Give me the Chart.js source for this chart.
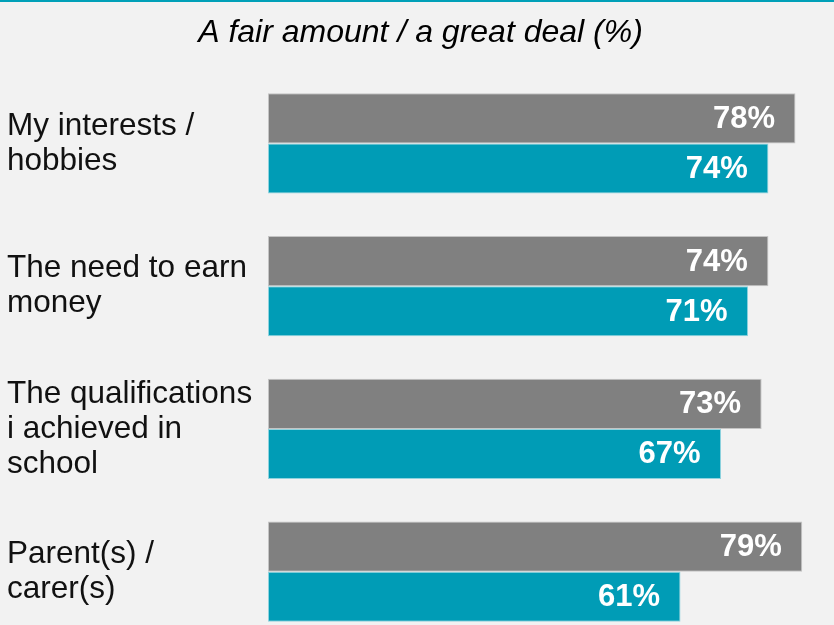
<!DOCTYPE html>
<html>
<head>
<meta charset="utf-8">
<script src="https://cdn.jsdelivr.net/npm/chart.js@4/dist/chart.umd.min.js"></script>
<style>
  html, body { margin: 0; padding: 0; background: #f2f2f2; }
  #wrap { position: relative; width: 834px; height: 625px; overflow: hidden; background: #f2f2f2; }
  #topline { position: absolute; left: 0; top: 0; width: 834px; height: 2px; background: #00a0b8; z-index: 2; }
  canvas { position: absolute; left: 0; top: 0; }
</style>
</head>
<body>
<div id="wrap">
  <div id="topline"></div>
  <canvas id="chart" width="834" height="643"></canvas>
</div>
<script>
// Survey categories (multi-line labels)
const categories = [
  ['My interests /', 'hobbies'],
  ['The need to earn', 'money'],
  ['The qualifications', 'i achieved in', 'school'],
  ['Parent(s) /', 'carer(s)']
];
// Share answering "a fair amount / a great deal", in percent
const greySeries = [78, 74, 73, 79];
const tealSeries = [74, 71, 67, 61];
const titleText = 'A fair amount / a great deal (%)';

const GREY = '#808080';
const TEAL = '#009cb6';

// Writes each bar's value inside its right end
const valueLabels = {
  id: 'valueLabels',
  afterDatasetsDraw(chart) {
    const ctx = chart.ctx;
    ctx.save();
    ctx.font = 'bold 31px "Liberation Sans", Arial, sans-serif';
    ctx.fillStyle = '#ffffff';
    ctx.textAlign = 'right';
    ctx.textBaseline = 'middle';
    chart.data.datasets.forEach((ds, di) => {
      chart.getDatasetMeta(di).data.forEach((bar, i) => {
        ctx.fillText(ds.data[i] + '%', bar.x - 20.5, bar.y + 1);
      });
    });
    ctx.restore();
  }
};

new Chart(document.getElementById('chart'), {
  type: 'bar',
  data: {
    labels: categories,
    datasets: [
      {
        label: 'Series A',
        data: greySeries,
        backgroundColor: GREY,
        borderColor: '#c4c4c4',
        borderWidth: 1,
        borderSkipped: false,
        barPercentage: 1,
        categoryPercentage: 0.701
      },
      {
        label: 'Series B',
        data: tealSeries,
        backgroundColor: TEAL,
        borderColor: '#8fd3de',
        borderWidth: 1,
        borderSkipped: false,
        barPercentage: 1,
        categoryPercentage: 0.701
      }
    ]
  },
  options: {
    indexAxis: 'y',
    responsive: false,
    animation: false,
    devicePixelRatio: 1,
    layout: { padding: { left: 7, right: 0, top: 0, bottom: 0 } },
    plugins: {
      legend: { display: false },
      tooltip: { enabled: false },
      title: {
        display: true,
        text: titleText,
        color: '#000000',
        font: { family: '"Liberation Sans", Arial, sans-serif', size: 32, style: 'italic', weight: 'normal', lineHeight: '40px' },
        padding: { top: 13, bottom: 19 }
      }
    },
    scales: {
      x: {
        display: false,
        min: 0,
        max: 83.7
      },
      y: {
        grid: { display: false },
        border: { display: false },
        ticks: {
          crossAlign: 'far',
          color: '#111111',
          padding: 0,
          font: { family: '"Liberation Sans", Arial, sans-serif', size: 31.5, lineHeight: '35px' }
        },
        afterFit(scale) {
          // fixed label column; labels sit inside the category bands, so no extra edge padding
          scale.width = 261;
          scale.paddingTop = 0;
          scale.paddingBottom = 0;
        }
      }
    }
  },
  plugins: [valueLabels]
});
</script>
</body>
</html>
